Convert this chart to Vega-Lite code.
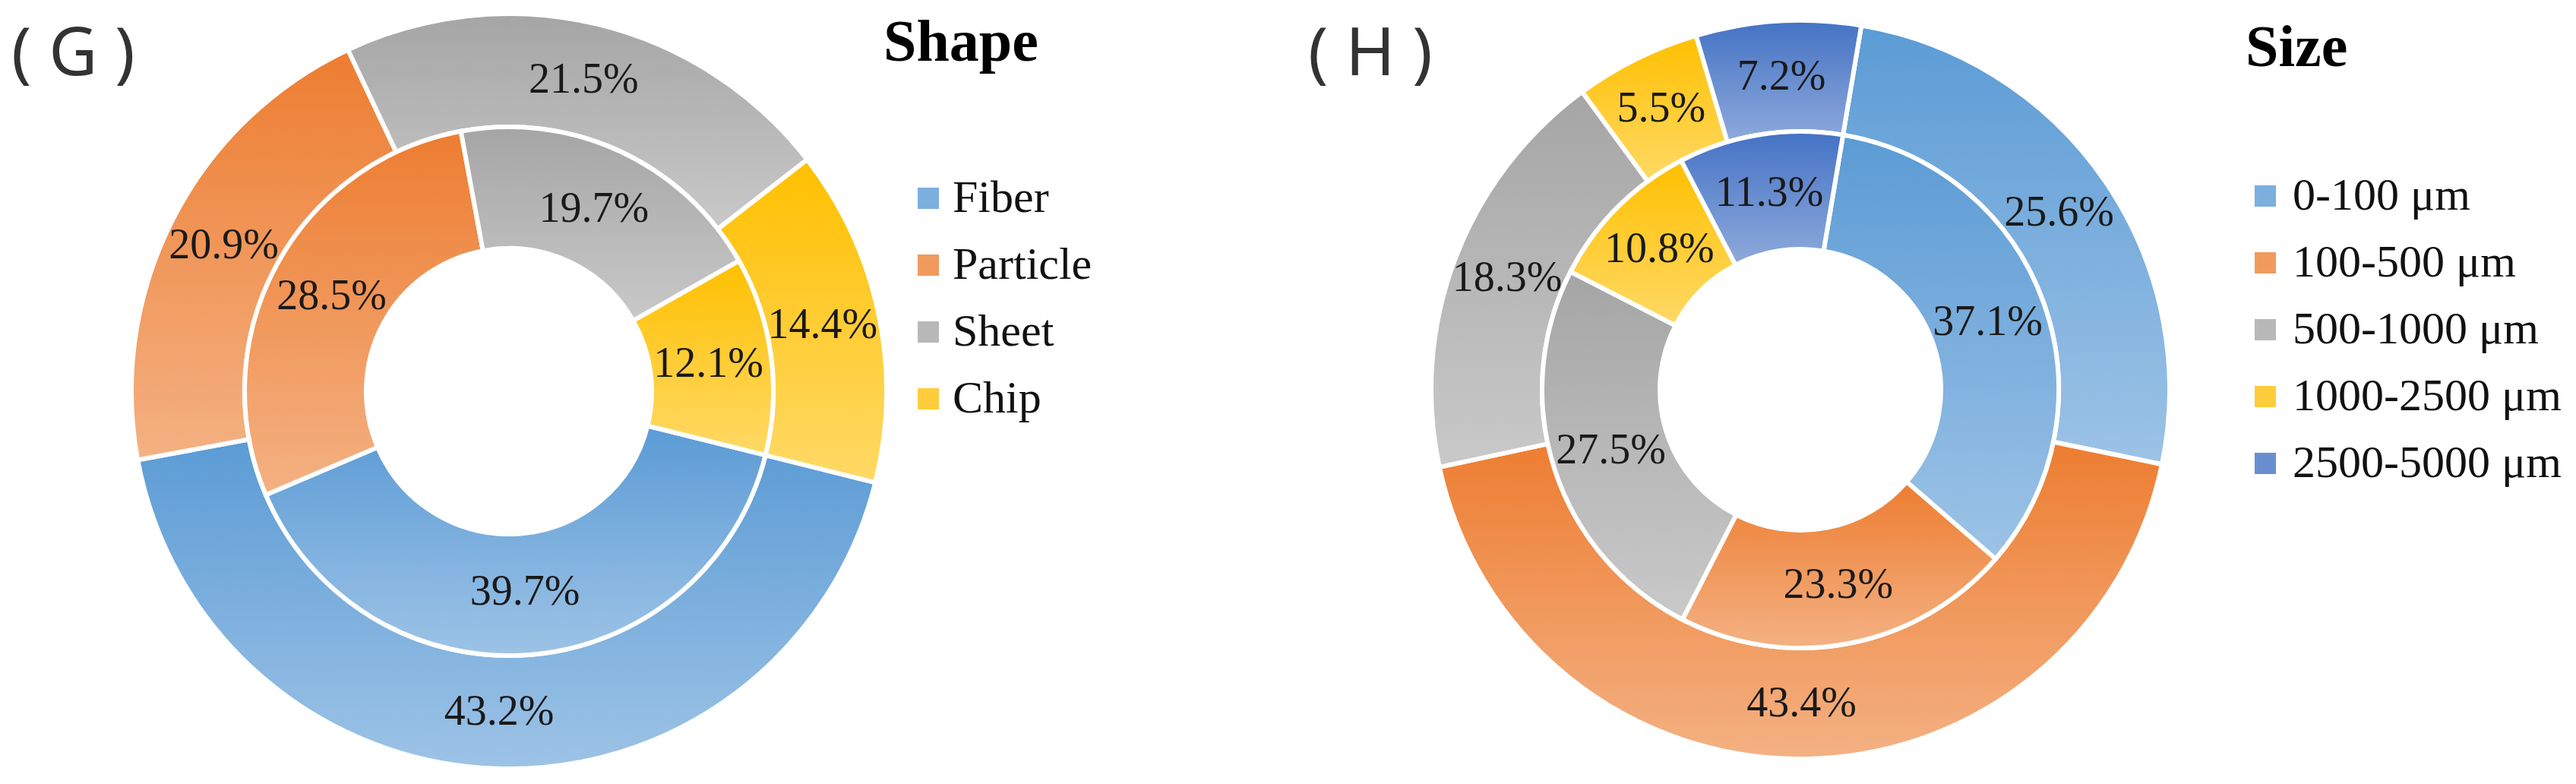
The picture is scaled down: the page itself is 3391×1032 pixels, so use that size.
{
  "$schema": "https://vega.github.io/schema/vega-lite/v6.json",
  "background": "white",
  "padding": {"left": 15, "top": 0, "right": 0, "bottom": 0},
  "spacing": 284,
  "config": {"view": {"stroke": null}},
  "resolve": {"scale": {"color": "independent", "theta": "independent"}, "legend": {"color": "independent"}},
  "datasets": {
    "shape": [
      {"ring": "outer", "category": "Fiber", "value": 43.2, "o": 1},
      {"ring": "outer", "category": "Particle", "value": 20.9, "o": 2},
      {"ring": "outer", "category": "Sheet", "value": 21.5, "o": 3},
      {"ring": "outer", "category": "Chip", "value": 14.4, "o": 4},
      {"ring": "inner", "category": "Fiber", "value": 39.7, "o": 1},
      {"ring": "inner", "category": "Particle", "value": 28.5, "o": 2},
      {"ring": "inner", "category": "Sheet", "value": 19.7, "o": 3},
      {"ring": "inner", "category": "Chip", "value": 12.1, "o": 4}
    ],
    "size": [
      {"ring": "outer", "category": "0-100 μm", "value": 25.6, "o": 1},
      {"ring": "outer", "category": "100-500 μm", "value": 43.4, "o": 2},
      {"ring": "outer", "category": "500-1000 μm", "value": 18.3, "o": 3},
      {"ring": "outer", "category": "1000-2500 μm", "value": 5.5, "o": 4},
      {"ring": "outer", "category": "2500-5000 μm", "value": 7.2, "o": 5},
      {"ring": "inner", "category": "0-100 μm", "value": 37.1, "o": 1},
      {"ring": "inner", "category": "100-500 μm", "value": 23.3, "o": 2},
      {"ring": "inner", "category": "500-1000 μm", "value": 27.5, "o": 3},
      {"ring": "inner", "category": "1000-2500 μm", "value": 10.8, "o": 4},
      {"ring": "inner", "category": "2500-5000 μm", "value": 11.3, "o": 5}
    ]
  },
  "hconcat": [
    {
      "title": {"text": "( G )", "anchor": "start", "frame": "group", "offset": -117, "font": "Noto Sans", "fontSize": 88, "fontWeight": "normal", "color": "#333333"},
      "width": 1310,
      "height": 1030,
      "data": {"name": "shape"},
      "transform": [{"calculate": "format(datum.value, '.1f') + '%'", "as": "label"}],
      "encoding": {
        "theta": {"field": "value", "type": "quantitative", "stack": "normalize", "scale": {"range": [1.8151, 8.0983]}},
        "order": {"field": "o", "type": "quantitative"}
      },
      "layer": [
        {
          "transform": [{"filter": "datum.ring == 'outer'"}],
          "mark": {"type": "arc", "outerRadius": 497, "innerRadius": 348, "stroke": "white", "strokeWidth": 6},
          "encoding": {
            "color": {
              "field": "category", "type": "nominal",
              "condition": [
                {"test": "datum.o === 1", "value": {"gradient": "linear", "x1": 0, "y1": 0, "x2": 0, "y2": 1, "stops": [{"offset": 0, "color": "#5B9BD5"}, {"offset": 1, "color": "#9DC3E6"}]}},
                {"test": "datum.o === 2", "value": {"gradient": "linear", "x1": 0, "y1": 0, "x2": 0, "y2": 1, "stops": [{"offset": 0, "color": "#ED7D31"}, {"offset": 1, "color": "#F4B183"}]}},
                {"test": "datum.o === 3", "value": {"gradient": "linear", "x1": 0, "y1": 0, "x2": 0, "y2": 1, "stops": [{"offset": 0, "color": "#A5A5A5"}, {"offset": 1, "color": "#C9C9C9"}]}},
                {"test": "datum.o === 4", "value": {"gradient": "linear", "x1": 0, "y1": 0, "x2": 0, "y2": 1, "stops": [{"offset": 0, "color": "#FFC000"}, {"offset": 1, "color": "#FFD966"}]}}
              ],
              "scale": {"domain": ["Fiber", "Particle", "Sheet", "Chip"], "range": ["#7BAFDE", "#F19A5E", "#B8B8B8", "#FFCD3C"]},
              "legend": {
                "title": "Shape", "orient": "none", "legendX": 1148, "legendY": 18,
                "titleFont": "Liberation Serif", "titleFontSize": 78, "titleFontWeight": "bold", "titleColor": "#000000",
                "titleAnchor": "start", "titlePadding": 135, "titleLimit": 1000,
                "symbolType": "square", "symbolSize": 784, "symbolStrokeWidth": 0, "symbolOffset": 29,
                "labelOffset": 2, "labelFont": "Liberation Serif", "labelFontSize": 60, "labelColor": "#111111", "labelLimit": 1000,
                "rowPadding": 28
              }
            }
          }
        },
        {
          "transform": [{"filter": "datum.ring == 'inner'"}],
          "mark": {"type": "arc", "outerRadius": 348, "innerRadius": 188, "stroke": "white", "strokeWidth": 6},
          "encoding": {
            "color": {
              "field": "category", "type": "nominal",
              "condition": [
                {"test": "datum.o === 1", "value": {"gradient": "linear", "x1": 0, "y1": 0, "x2": 0, "y2": 1, "stops": [{"offset": 0, "color": "#5B9BD5"}, {"offset": 1, "color": "#9DC3E6"}]}},
                {"test": "datum.o === 2", "value": {"gradient": "linear", "x1": 0, "y1": 0, "x2": 0, "y2": 1, "stops": [{"offset": 0, "color": "#ED7D31"}, {"offset": 1, "color": "#F4B183"}]}},
                {"test": "datum.o === 3", "value": {"gradient": "linear", "x1": 0, "y1": 0, "x2": 0, "y2": 1, "stops": [{"offset": 0, "color": "#A5A5A5"}, {"offset": 1, "color": "#C9C9C9"}]}},
                {"test": "datum.o === 4", "value": {"gradient": "linear", "x1": 0, "y1": 0, "x2": 0, "y2": 1, "stops": [{"offset": 0, "color": "#FFC000"}, {"offset": 1, "color": "#FFD966"}]}}
              ]
            }
          }
        },
        {
          "transform": [{"filter": "datum.ring == 'outer'"}],
          "mark": {"type": "text", "radius": 422, "font": "Liberation Serif", "fontSize": 56, "color": "#1a1a1a"},
          "encoding": {"text": {"field": "label"}, "detail": {"field": "category"}}
        },
        {
          "transform": [{"filter": "datum.ring == 'inner'"}],
          "mark": {"type": "text", "radius": 265, "font": "Liberation Serif", "fontSize": 56, "color": "#1a1a1a"},
          "encoding": {"text": {"field": "label"}, "detail": {"field": "category"}}
        }
      ]
    },
    {
      "title": {"text": "( H )", "anchor": "start", "frame": "group", "offset": -117, "font": "Noto Sans", "fontSize": 88, "fontWeight": "normal", "color": "#333333"},
      "width": 1296,
      "height": 1026,
      "data": {"name": "size"},
      "transform": [{"calculate": "format(datum.value, '.1f') + '%'", "as": "label"}],
      "encoding": {
        "theta": {"field": "value", "type": "quantitative", "stack": "normalize", "scale": {"range": [0.1658, 6.449]}},
        "order": {"field": "o", "type": "quantitative"}
      },
      "layer": [
        {
          "transform": [{"filter": "datum.ring == 'outer'"}],
          "mark": {"type": "arc", "outerRadius": 486, "innerRadius": 340, "stroke": "white", "strokeWidth": 6},
          "encoding": {
            "color": {
              "field": "category", "type": "nominal",
              "condition": [
                {"test": "datum.o === 1", "value": {"gradient": "linear", "x1": 0, "y1": 0, "x2": 0, "y2": 1, "stops": [{"offset": 0, "color": "#5B9BD5"}, {"offset": 1, "color": "#9DC3E6"}]}},
                {"test": "datum.o === 2", "value": {"gradient": "linear", "x1": 0, "y1": 0, "x2": 0, "y2": 1, "stops": [{"offset": 0, "color": "#ED7D31"}, {"offset": 1, "color": "#F4B183"}]}},
                {"test": "datum.o === 3", "value": {"gradient": "linear", "x1": 0, "y1": 0, "x2": 0, "y2": 1, "stops": [{"offset": 0, "color": "#A5A5A5"}, {"offset": 1, "color": "#C9C9C9"}]}},
                {"test": "datum.o === 4", "value": {"gradient": "linear", "x1": 0, "y1": 0, "x2": 0, "y2": 1, "stops": [{"offset": 0, "color": "#FFC000"}, {"offset": 1, "color": "#FFD966"}]}},
                {"test": "datum.o === 5", "value": {"gradient": "linear", "x1": 0, "y1": 0, "x2": 0, "y2": 1, "stops": [{"offset": 0, "color": "#4472C4"}, {"offset": 1, "color": "#8FAADC"}]}}
              ],
              "scale": {
                "domain": ["0-100 μm", "100-500 μm", "500-1000 μm", "1000-2500 μm", "2500-5000 μm"],
                "range": ["#7BAFDE", "#F19A5E", "#B8B8B8", "#FFCD3C", "#698ED0"]
              },
              "legend": {
                "title": "Size", "orient": "none", "legendX": 1234, "legendY": 25,
                "titleFont": "Liberation Serif", "titleFontSize": 78, "titleFontWeight": "bold", "titleColor": "#000000",
                "titleAnchor": "start", "titlePadding": 125, "titleLimit": 1000,
                "symbolType": "square", "symbolSize": 784, "symbolStrokeWidth": 0, "symbolOffset": -4,
                "labelOffset": 6, "labelFont": "Liberation Serif", "labelFontSize": 60, "labelColor": "#111111", "labelLimit": 1000,
                "rowPadding": 28
              }
            }
          }
        },
        {
          "transform": [{"filter": "datum.ring == 'inner'"}],
          "mark": {"type": "arc", "outerRadius": 340, "innerRadius": 185, "stroke": "white", "strokeWidth": 6},
          "encoding": {
            "color": {
              "field": "category", "type": "nominal",
              "condition": [
                {"test": "datum.o === 1", "value": {"gradient": "linear", "x1": 0, "y1": 0, "x2": 0, "y2": 1, "stops": [{"offset": 0, "color": "#5B9BD5"}, {"offset": 1, "color": "#9DC3E6"}]}},
                {"test": "datum.o === 2", "value": {"gradient": "linear", "x1": 0, "y1": 0, "x2": 0, "y2": 1, "stops": [{"offset": 0, "color": "#ED7D31"}, {"offset": 1, "color": "#F4B183"}]}},
                {"test": "datum.o === 3", "value": {"gradient": "linear", "x1": 0, "y1": 0, "x2": 0, "y2": 1, "stops": [{"offset": 0, "color": "#A5A5A5"}, {"offset": 1, "color": "#C9C9C9"}]}},
                {"test": "datum.o === 4", "value": {"gradient": "linear", "x1": 0, "y1": 0, "x2": 0, "y2": 1, "stops": [{"offset": 0, "color": "#FFC000"}, {"offset": 1, "color": "#FFD966"}]}},
                {"test": "datum.o === 5", "value": {"gradient": "linear", "x1": 0, "y1": 0, "x2": 0, "y2": 1, "stops": [{"offset": 0, "color": "#4472C4"}, {"offset": 1, "color": "#8FAADC"}]}}
              ]
            }
          }
        },
        {
          "transform": [{"filter": "datum.ring == 'outer'"}],
          "mark": {"type": "text", "radius": 413, "font": "Liberation Serif", "fontSize": 56, "color": "#1a1a1a"},
          "encoding": {"text": {"field": "label"}, "detail": {"field": "category"}}
        },
        {
          "transform": [{"filter": "datum.ring == 'inner'"}],
          "mark": {"type": "text", "radius": 262, "font": "Liberation Serif", "fontSize": 56, "color": "#1a1a1a"},
          "encoding": {"text": {"field": "label"}, "detail": {"field": "category"}}
        }
      ]
    }
  ]
}
